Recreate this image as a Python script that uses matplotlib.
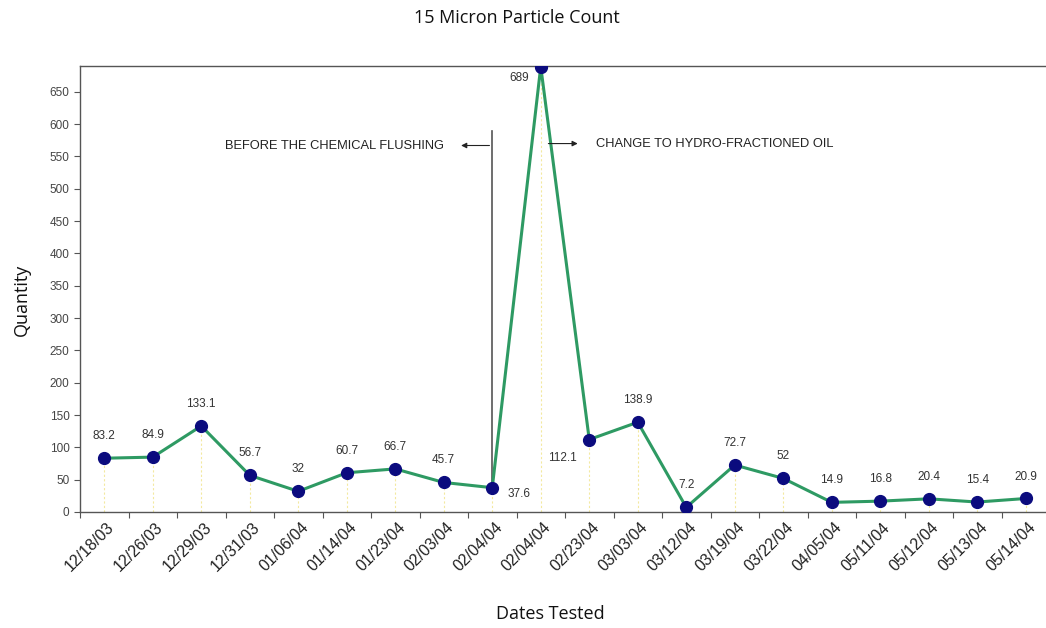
import matplotlib
matplotlib.use("Agg")
import matplotlib.pyplot as plt

dates = ["12/18/03", "12/26/03", "12/29/03", "12/31/03", "01/06/04", "01/14/04",
         "01/23/04", "02/03/04", "02/04/04", "02/04/04", "02/23/04", "03/03/04",
         "03/12/04", "03/19/04", "03/22/04", "04/05/04", "05/11/04", "05/12/04",
         "05/13/04", "05/14/04"]
values = [83.2, 84.9, 133.1, 56.7, 32, 60.7, 66.7, 45.7, 37.6, 689, 112.1, 138.9,
          7.2, 72.7, 52, 14.9, 16.8, 20.4, 15.4, 20.9]
labels = ["83.2", "84.9", "133.1", "56.7", "32", "60.7", "66.7", "45.7", "37.6", "689",
          "112.1", "138.9", "7.2", "72.7", "52", "14.9", "16.8", "20.4", "15.4", "20.9"]
yticks = list(range(0, 651, 50))

narrow = "Liberation Sans"

fig = plt.figure(figsize=(10.46, 6.28), dpi=100)
ax = fig.add_axes([80/1046, 1-512/628, 970/1046, (512-66)/628])
x = list(range(len(values)))

for xi, v in zip(x, values):
    ax.plot([xi, xi], [0, v], color="#f3e9a0", lw=0.8, ls=(0, (2, 2)), zorder=1)
ax.plot(x, values, color="#2e9a63", lw=2.2, zorder=2)
ax.plot(x, values, ls="none", marker="o", ms=8.5, color="#0b0b7e", zorder=3)

ax.set_xlim(-0.5, len(values) - 0.5)
ax.set_ylim(0, 690)
ax.set_yticks(yticks)
ax.set_yticklabels([str(t) for t in yticks], fontsize=8.5, color="#444444", family="Liberation Sans")
ax.set_xticks([i + 0.5 for i in range(-1, len(values))])
ax.set_xticklabels([""] * (len(values) + 1))
for xi, d in zip(x, dates):
    ax.text(xi + 0.05, -12, d, rotation=45, ha="right", va="top", fontsize=11.5,
            family=narrow, color="#222222", rotation_mode="anchor")
ax.tick_params(axis="both", direction="out", length=4, color="#555555")

ax.spines["right"].set_visible(False)
for s in ["left", "bottom", "top"]:
    ax.spines[s].set_color("#555555")
    ax.spines[s].set_linewidth(1.0)

# data labels
offsets = {8: (0.55, -10), 9: (-0.45, -18), 10: (-0.55, -28)}
for xi, v, lab in zip(x, values, labels):
    dx, dy = offsets.get(xi, (0, 34))
    ax.text(xi + dx, v + dy, lab, ha="center", va="center", fontsize=8.5, color="#333333",
            family="Liberation Sans")

# annotation line and arrows
ax.plot([8, 8], [values[8], 590], color="#555555", lw=1.2, zorder=1.5)
ax.annotate("", xy=(7.3, 567), xytext=(8, 567),
            arrowprops=dict(arrowstyle="-|>", color="#222222", lw=0.8, mutation_scale=8))
ax.text(7.0, 567, "BEFORE THE CHEMICAL FLUSHING", ha="right", va="center",
        fontsize=9.3, family=narrow, color="#222222")
ax.annotate("", xy=(9.82, 570), xytext=(9.1, 570),
            arrowprops=dict(arrowstyle="-|>", color="#222222", lw=0.8, mutation_scale=8))
ax.text(10.13, 570, "CHANGE TO HYDRO-FRACTIONED OIL", ha="left", va="center",
        fontsize=9.3, family=narrow, color="#222222")

fig.text(517/1046, 1-18/628, "15 Micron Particle Count", ha="center", va="center",
         fontsize=13, family="Open Sans", color="#111111")
fig.text(22/1046, 1-300/628, "Quantity", rotation=90, ha="center", va="center",
         fontsize=13, family="Open Sans", color="#111111")
fig.text(550/1046, 1-614/628, "Dates Tested", ha="center", va="center",
         fontsize=13, family="Open Sans", color="#111111")

fig.savefig("out.png", dpi=100)
